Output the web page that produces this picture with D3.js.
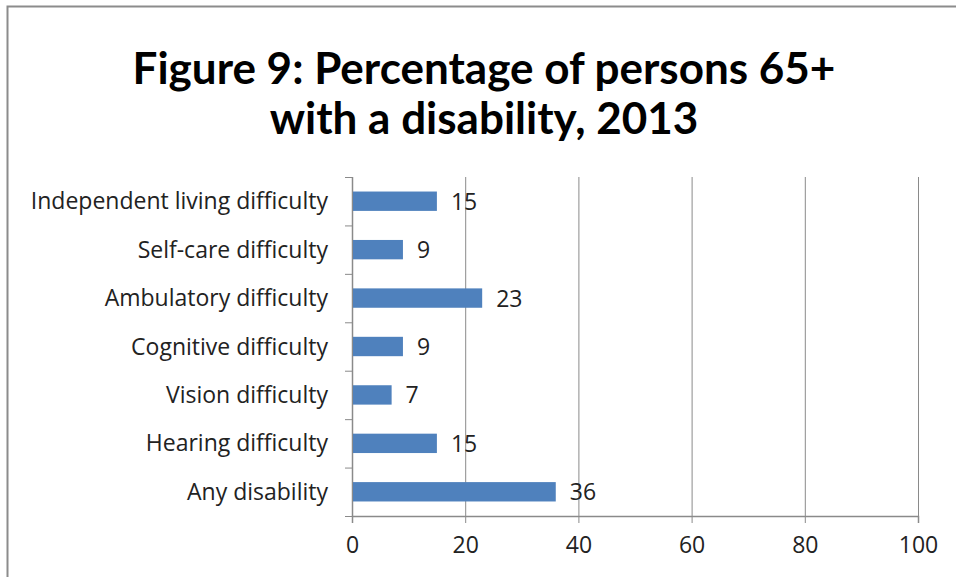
<!DOCTYPE html>
<html>
<head>
<meta charset="utf-8">
<style>
  body { margin: 0; background: #fff; }
  .title { font-family: Lato, 'Open Sans', sans-serif; font-weight: bold; font-size: 44px; fill: #000; }
  .cat { font-family: 'Open Sans', 'Noto Sans', sans-serif; font-size: 23px; fill: #222; }
  .val { font-family: 'Open Sans', 'Noto Sans', sans-serif; font-size: 23px; fill: #222; }
  .bar { fill: #4f81bd; }
</style>
</head>
<body>
<svg width="956" height="577"></svg>
<script src="https://d3js.org/d3.v7.min.js"></script>
<script>
// datos del grafico
var categories = ["Independent living difficulty", "Self-care difficulty", "Ambulatory difficulty",
  "Cognitive difficulty", "Vision difficulty", "Hearing difficulty", "Any disability"];
var values = [15, 9, 23, 9, 7, 15, 36];
var xTicks = [0, 20, 40, 60, 80, 100];
var titleLines = ["Figure 9: Percentage of persons 65+", "with a disability, 2013"];

var svg = d3.select("svg"),
  margin = { top: 177, left: 352, right: 38, bottom: 61 },
  width = 956 - margin.left - margin.right,
  height = 577 - margin.top - margin.bottom,
  g = svg.append("g").attr("transform", "translate(" + margin.left + "," + margin.top + ")");

// marco
svg.append("path")
  .attr("d", "M7.5,577 L7.5,6.5 L956,6.5")
  .attr("fill", "none")
  .attr("stroke", "#8c8c8c")
  .attr("stroke-width", 2);

svg.selectAll(".title")
  .data(titleLines)
  .enter().append("text")
  .attr("class", "title")
  .attr("x", 484)
  .attr("y", function (d, i) { return 84 + i * 50; })
  .attr("text-anchor", "middle")
  .text(function (d) { return d; });

var x = d3.scaleLinear().domain([0, 100]).range([0, width]);
var y = d3.scaleBand().domain(categories).range([0, height]).paddingInner(0.6).paddingOuter(0.3);
var yb = d3.scaleBand().domain(categories).range([0, height]);

// lineas de la grilla
g.selectAll(".grid")
  .data(xTicks.slice(1))
  .enter().append("line")
  .attr("x1", function (d) { return x(d) + 0.5; })
  .attr("x2", function (d) { return x(d) + 0.5; })
  .attr("y1", 0)
  .attr("y2", height)
  .attr("stroke", "#8a8a8a")
  .attr("stroke-width", 1);

// eje x
var xAxis = g.append("g")
  .attr("transform", "translate(0," + height + ")")
  .call(d3.axisBottom(x).tickValues(xTicks).tickSize(7).tickPadding(14));
xAxis.select(".domain").attr("stroke", "#8a8a8a").attr("stroke-width", 1.5);
xAxis.selectAll(".tick line").attr("stroke", "#8a8a8a");
xAxis.selectAll("text")
  .attr("fill", "#222")
  .style("font-family", "'Open Sans', 'Noto Sans', sans-serif")
  .style("font-size", "23px");

// eje y
g.append("line")
  .attr("x1", 0.5).attr("x2", 0.5)
  .attr("y1", 0).attr("y2", height)
  .attr("stroke", "#8a8a8a").attr("stroke-width", 1.5);
g.selectAll(".ytick")
  .data(categories.concat([null]))
  .enter().append("line")
  .attr("x1", -7).attr("x2", 0)
  .attr("y1", function (d, i) { return i * yb.step() + 0.5; })
  .attr("y2", function (d, i) { return i * yb.step() + 0.5; })
  .attr("stroke", "#8a8a8a");

g.selectAll(".cat")
  .data(categories)
  .enter().append("text")
  .attr("class", "cat")
  .attr("x", -24)
  .attr("y", function (d) { return yb(d) + yb.bandwidth() / 2; })
  .attr("dy", "0.35em")
  .attr("text-anchor", "end")
  .text(function (d) { return d; });

// barras
g.selectAll(".bar")
  .data(values)
  .enter().append("rect")
  .attr("class", "bar")
  .attr("x", 1)
  .attr("y", function (d, i) { return y(categories[i]); })
  .attr("width", function (d) { return x(d) - 1; })
  .attr("height", y.bandwidth());

g.selectAll(".val")
  .data(values)
  .enter().append("text")
  .attr("class", "val")
  .attr("x", function (d) { return x(d) + 14; })
  .attr("y", function (d, i) { return y(categories[i]) + y.bandwidth() / 2; })
  .attr("dy", "0.37em")
  .text(function (d) { return d; });
</script>
</body>
</html>
